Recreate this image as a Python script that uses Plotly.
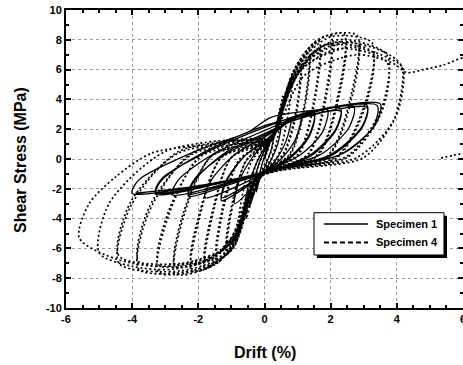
import plotly.graph_objects as go

# Specimen 1 (solid) hysteresis path, drift (%) / shear stress (MPa)
spec1_drift = [
    0.0, 0.15, 0.3, 0.2, 0.0, -0.15, -0.25, -0.15, 0.0,
    0.2, 0.5, 0.4, 0.1, -0.2, -0.45, -0.35, -0.15, 0.1,
    0.4, 0.8, 0.65, 0.3, -0.15, -0.4, -0.6, -0.5, -0.25, 0.1,
    0.5, 1.1, 0.95, 0.5, 0.0, -0.4, -0.9, -0.8, -0.4, 0.1,
    0.6, 1.5, 1.35, 0.8, 0.1, -0.5, -1.3, -1.15, -0.6, 0.1,
    0.6, 1.5, 1.35, 0.8, 0.1, -0.5, -1.3, -1.15, -0.6, 0.1,
    0.8, 1.9, 1.75, 1.1, 0.2, -0.7, -1.8, -1.6, -0.9, 0.1,
    0.9, 2.3, 2.15, 1.4, 0.3, -0.9, -2.3, -2.1, -1.2, 0.1,
    0.9, 2.3, 2.15, 1.4, 0.3, -0.9, -2.3, -2.1, -1.2, 0.1,
    1.0, 2.7, 2.55, 1.7, 0.4, -1.1, -2.8, -2.6, -1.5, 0.1,
    1.2, 3.1, 2.95, 2.0, 0.5, -1.3, -3.3, -3.1, -1.8, 0.1,
    1.2, 3.1, 2.95, 2.0, 0.5, -1.3, -3.3, -3.1, -1.8, 0.1,
    1.4, 3.5, 3.35, 2.4, 0.6, -1.5, -4.0, -3.8, -2.0, -0.5, 0.2,
    1.6, 3.4, 3.3, 2.3, 0.8, -1.0, -3.9,
]
spec1_stress = [
    0.0, 1.0, 1.8, 0.6, -0.6, -1.4, -2.2, -1.0, 0.2,
    1.4, 2.4, 1.0, -0.5, -1.6, -3.2, -1.8, -0.2, 1.0,
    2.0, 2.7, 1.2, -0.2, -1.3, -2.6, -3.3, -1.9, -0.3, 1.1,
    2.2, 2.9, 1.4, 0.0, -0.9, -2.0, -3.0, -1.7, 0.0, 1.3,
    2.4, 3.1, 1.6, 0.2, -0.8, -1.8, -2.8, -1.5, 0.2, 1.4,
    2.3, 2.9, 1.5, 0.1, -0.8, -1.7, -2.6, -1.4, 0.2, 1.3,
    2.6, 3.3, 1.8, 0.3, -0.7, -1.7, -2.6, -1.4, 0.3, 1.6,
    2.7, 3.4, 2.0, 0.3, -0.7, -1.6, -2.5, -1.4, 0.4, 1.8,
    2.6, 3.2, 1.9, 0.2, -0.7, -1.5, -2.35, -1.3, 0.3, 1.7,
    2.8, 3.5, 2.1, 0.3, -0.6, -1.6, -2.4, -1.4, 0.4, 2.0,
    3.0, 3.6, 2.2, 0.3, -0.6, -1.6, -2.35, -1.4, 0.5, 2.3,
    2.9, 3.45, 2.1, 0.2, -0.6, -1.55, -2.25, -1.3, 0.4, 2.2,
    3.2, 3.7, 2.3, 0.4, -0.6, -1.6, -2.3, -1.4, 0.6, 1.8, 2.8,
    3.3, 3.6, 2.2, 0.3, -0.5, -1.5, -2.3,
]

# Specimen 4 (dashed) hysteresis path
spec4_drift = [
    0.0, 0.1, 0.3, 0.2, -0.1, -0.35, -0.2, 0.0,
    0.25, 0.45, 0.55, 0.45, 0.2, -0.2, -0.4, -0.55, -0.45, -0.2, 0.0,
    0.2, 0.55, 0.85, 0.7, 0.4, -0.2, -0.55, -0.85, -0.7, -0.4, 0.0,
    0.2, 0.65, 1.1, 0.95, 0.55, -0.2, -0.65, -1.15, -0.95, -0.55, 0.0,
    0.2, 0.65, 1.1, 0.95, 0.55, -0.2, -0.65, -1.15, -0.95, -0.55, 0.0,
    0.2, 0.75, 1.35, 1.2, 0.75, -0.2, -0.75, -1.45, -1.25, -0.75, 0.0,
    0.2, 0.75, 1.35, 1.2, 0.75, -0.2, -0.75, -1.45, -1.25, -0.75, 0.0,
    0.2, 0.8, 1.65, 1.5, 1.0, -0.2, -0.8, -1.8, -1.55, -1.0, 0.0,
    0.2, 0.8, 1.65, 1.5, 1.0, -0.2, -0.8, -1.8, -1.55, -1.0, 0.0,
    0.2, 0.85, 1.4, 2.0, 1.85, 1.3, -0.2, -0.85, -1.5, -2.2, -1.95, -1.3, 0.0,
    0.2, 0.85, 1.4, 2.0, 1.85, 1.3, -0.2, -0.85, -1.5, -2.2, -1.95, -1.3, 0.0,
    0.2, 0.9, 1.6, 2.4, 2.25, 1.6, -0.2, -0.9, -1.7, -2.7, -2.45, -1.6, 0.0,
    0.2, 0.9, 1.6, 2.4, 2.25, 1.6, -0.2, -0.9, -1.7, -2.7, -2.45, -1.6, 0.0,
    0.2, 0.95, 1.8, 2.8, 2.65, 1.9, -0.2, -0.95, -1.9, -3.2, -2.9, -1.9, 0.0,
    0.2, 0.95, 1.8, 2.8, 2.65, 1.9, -0.2, -0.95, -1.9, -3.2, -2.9, -1.9, 0.0,
    0.2, 1.0, 2.0, 3.25, 3.1, 2.2, -0.2, -1.0, -2.2, -3.8, -3.5, -2.2, 0.0,
    0.2, 1.0, 2.0, 3.25, 3.1, 2.2, -0.2, -1.0, -2.2, -3.8, -3.5, -2.2, 0.0,
    0.2, 1.0, 2.2, 3.7, 3.55, 2.5, -0.2, -1.05, -2.5, -4.4, -4.05, -2.6, 0.0,
    0.2, 1.0, 2.2, 3.7, 3.55, 2.5, -0.2, -1.05, -2.5, -4.4, -4.05, -2.6, 0.0,
    0.2, 1.05, 2.4, 3.6, 4.15, 3.9, 2.8, -0.2, -1.1, -2.8, -4.0, -5.0, -4.7, -3.0, 0.0,
    0.2, 1.1, 2.6, 4.0, 4.2, 4.0, 3.0, -0.2, -1.2, -3.0, -4.5, -5.6, -5.3, -4.5, -3.4, -1.5, 0.0,
    0.2, 1.2, 2.8, 3.9, 4.3, 4.8, 5.4, 6.2, 6.6, 6.2, 5.7, 5.3,
]
spec4_stress = [
    0.0, 0.6, 2.0, 0.5, -0.8, -2.5, -0.6, 0.5,
    1.5, 3.2, 4.2, 2.0, 0.0, -1.2, -2.8, -4.0, -2.0, 0.0, 0.8,
    1.3, 3.8, 5.6, 2.8, 0.2, -1.2, -3.6, -5.4, -2.8, -0.2, 0.9,
    1.3, 4.4, 6.6, 3.2, 0.3, -1.2, -4.2, -6.3, -3.0, -0.1, 1.0,
    1.2, 4.0, 6.0, 2.9, 0.2, -1.1, -3.8, -5.7, -2.7, -0.1, 0.9,
    1.3, 5.0, 7.3, 3.6, 0.3, -1.2, -4.8, -7.0, -3.4, 0.0, 1.0,
    1.2, 4.6, 6.7, 3.3, 0.2, -1.1, -4.4, -6.4, -3.1, 0.0, 0.9,
    1.3, 5.4, 7.9, 4.0, 0.3, -1.2, -5.2, -7.3, -3.6, 0.1, 1.1,
    1.2, 5.0, 7.3, 3.7, 0.2, -1.1, -4.8, -6.8, -3.3, 0.1, 1.0,
    1.3, 5.8, 7.6, 8.3, 4.4, 0.3, -1.2, -5.5, -7.1, -7.5, -3.8, 0.1, 1.1,
    1.2, 5.3, 7.0, 7.7, 4.0, 0.2, -1.1, -5.0, -6.6, -7.0, -3.5, 0.1, 1.0,
    1.3, 6.0, 8.0, 8.4, 4.6, 0.3, -1.2, -5.8, -7.3, -7.7, -3.9, 0.2, 1.2,
    1.2, 5.5, 7.4, 7.8, 4.2, 0.2, -1.1, -5.3, -6.8, -7.2, -3.6, 0.2, 1.1,
    1.3, 6.2, 8.2, 8.3, 4.6, 0.2, -1.2, -6.0, -7.4, -7.6, -3.8, 0.3, 1.2,
    1.2, 5.7, 7.6, 7.7, 4.2, 0.1, -1.1, -5.5, -6.9, -7.1, -3.5, 0.2, 1.1,
    1.3, 6.3, 8.2, 7.8, 4.2, 0.2, -1.2, -6.1, -7.5, -7.4, -3.6, 0.4, 1.3,
    1.2, 5.8, 7.6, 7.2, 3.9, 0.1, -1.1, -5.6, -7.0, -6.9, -3.3, 0.3, 1.2,
    1.3, 6.2, 8.0, 7.0, 3.5, 0.2, -1.2, -6.2, -7.5, -7.0, -3.2, 0.5, 1.3,
    1.2, 5.7, 7.4, 6.5, 3.2, 0.1, -1.1, -5.7, -7.0, -6.5, -2.9, 0.4, 1.2,
    1.3, 6.1, 7.8, 7.2, 6.2, 2.6, 0.1, -1.3, -6.2, -7.4, -7.2, -6.3, -3.0, 0.5, 1.4,
    1.3, 6.0, 7.5, 6.5, 6.0, 3.0, 0.1, -1.3, -6.0, -7.2, -6.7, -5.3, -3.0, -1.2, 0.4, 1.0, 1.4,
    1.3, 5.6, 7.0, 6.4, 5.8, 6.0, 6.3, 6.8, 4.0, 0.6, 0.25, 0.05,
]

x_ticks = [-6, -4, -2, 0, 2, 4, 6]
y_ticks = [-10, -8, -6, -4, -2, 0, 2, 4, 6, 8, 10]
series_names = ["Specimen 1", "Specimen 4"]
x_title = "Drift (%)"
y_title = "Shear Stress (MPa)"

FONT = "Liberation Sans, Arial"
SOLID_STYLE = dict(color="black", width=1.3)
DASH_STYLE = dict(color="black", width=1.7, dash="2px,2.5px")

fig = go.Figure()
fig.add_trace(go.Scatter(
    x=spec1_drift, y=spec1_stress, mode="lines", name=series_names[0],
    line=dict(shape="spline", smoothing=0.8, **SOLID_STYLE),
))
fig.add_trace(go.Scatter(
    x=spec4_drift, y=spec4_stress, mode="lines", name=series_names[1],
    line=dict(shape="spline", smoothing=0.8, **DASH_STYLE),
))

axis_common = dict(
    showline=True, linecolor="black", linewidth=2, mirror="ticks",
    ticks="inside", ticklen=5, tickwidth=1.5, tickcolor="black",
    showgrid=True, gridcolor="#9a9a9a", griddash="dot", gridwidth=1,
    zeroline=False, automargin=False, ticklabeloverflow="allow",
    tickfont=dict(family=FONT, size=11, color="black", weight="bold"),
)

fig.update_xaxes(
    range=[-6, 6], tickvals=x_ticks, ticktext=[str(v) for v in x_ticks],
    minor=dict(dtick=0.5, ticks="inside", ticklen=3, tickcolor="black", showgrid=False),
    **axis_common,
)
fig.update_yaxes(
    range=[-10, 10], tickvals=y_ticks, ticktext=[str(v) for v in y_ticks],
    minor=dict(dtick=1, ticks="inside", ticklen=3, tickcolor="black", showgrid=False),
    **axis_common,
)

TITLE_FONT = dict(family=FONT, size=16, color="black", weight="bold")
fig.add_annotation(xref="paper", yref="paper", x=0.501, y=-0.1477, text=x_title,
                   showarrow=False, xanchor="center", yanchor="middle", font=TITLE_FONT)
fig.add_annotation(xref="paper", yref="paper", x=-0.1159, y=0.4966, text=y_title,
                   showarrow=False, xanchor="center", yanchor="middle", textangle=-90,
                   font=TITLE_FONT)

# hand-drawn legend box (with drop shadow), in paper coordinates
box = dict(x0=0.6247, x1=0.9521, y0=0.1779, y1=0.3198)
shadow = dict(x0=0.6322, x1=0.9597, y0=0.1678, y1=0.3097)
entry_y = [0.2819, 0.2198]
sample_x = [0.6499, 0.7607]
label_x = 0.7758

fig.add_shape(type="rect", xref="paper", yref="paper", fillcolor="black",
              line=dict(width=0), layer="above", **shadow)
fig.add_shape(type="rect", xref="paper", yref="paper", fillcolor="white",
              line=dict(color="black", width=1), layer="above", **box)
for ey, style, name in zip(entry_y, [dict(color="black", width=1.5),
                                     dict(color="black", width=2, dash="5px,3px")], series_names):
    fig.add_shape(type="line", xref="paper", yref="paper", x0=sample_x[0], x1=sample_x[1],
                  y0=ey, y1=ey, line=style, layer="above")
    fig.add_annotation(xref="paper", yref="paper", x=label_x, y=ey, text=name, showarrow=False,
                       xanchor="left", yanchor="middle",
                       font=dict(family=FONT, size=11, color="black", weight="bold"))

fig.update_layout(
    width=463, height=365,
    margin=dict(l=66, r=0, t=10, b=57),
    paper_bgcolor="white", plot_bgcolor="white",
    showlegend=False,
)

fig.write_html("out.html",
               config={"displayModeBar": False},
               post_script="document.body.style.margin='0';document.body.style.overflow='hidden';")
